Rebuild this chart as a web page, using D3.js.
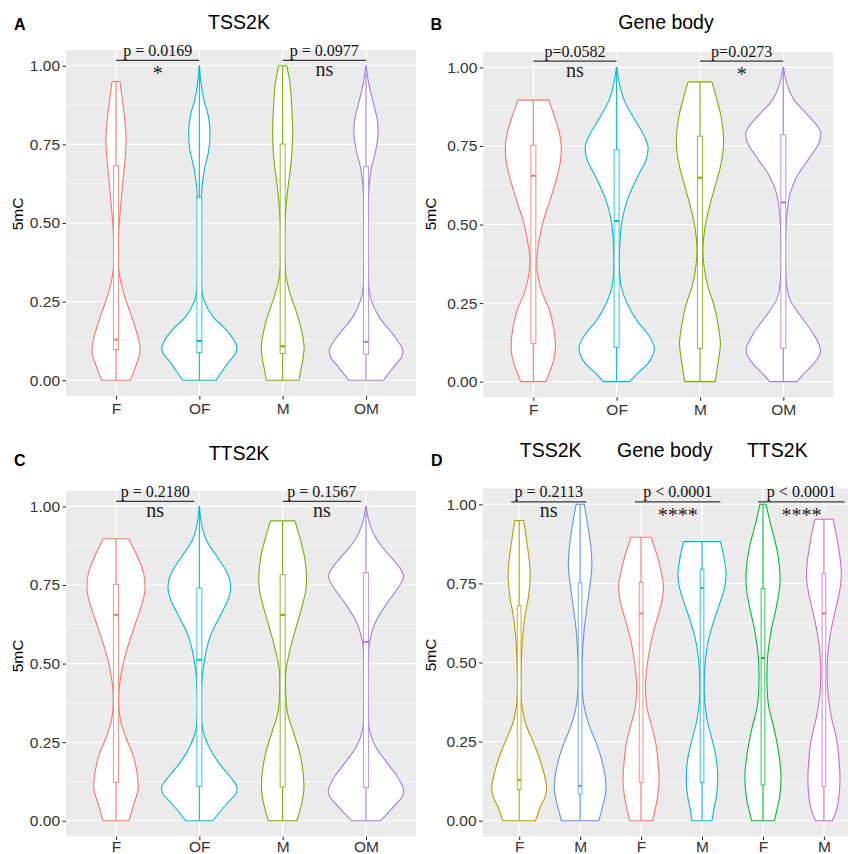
<!DOCTYPE html>
<html>
<head>
<meta charset="utf-8">
<script src="https://cdn.jsdelivr.net/npm/d3@7"></script>
<style>
  body { margin: 0; background: #fff; }
  svg { display: block; }
</style>
</head>
<body>
<div id="chart"></div>
<script>
// categories
const groupsABC = ['F', 'OF', 'M', 'OM']
const groupsD = ['F', 'M', 'F', 'M', 'F', 'M']
const colorsABC = ['#F8766D', '#00BFC4', '#7CAE00', '#A580D3']
const colorsD = ['#B79F00', '#5F93EC', '#F8766D', '#00BFC4', '#00BA38', '#D06AC7']
const yTicks = [0, 0.25, 0.5, 0.75, 1]
const yMinor = [0.125, 0.375, 0.625, 0.875]

// violin outlines: [5mC, relative density]
const violinsA = [
  [[0,43],[0.042,58],[0.085,71],[0.117,70],[0.17,57],[0.22,41],[0.276,23],[0.33,11],[0.38,6],[0.47,8],[0.53,12],[0.615,19],[0.68,25],[0.73,29],[0.77,30],[0.84,25],[0.89,19],[0.95,12]],
  [[0,50],[0.032,70],[0.064,92],[0.085,108],[0.106,112],[0.138,97],[0.17,72],[0.2,42],[0.254,14],[0.31,5],[0.41,2],[0.52,3],[0.615,8],[0.68,17],[0.73,28],[0.785,32],[0.84,27],[0.89,14],[0.944,5],[1,0.5]],
  [[0,49],[0.032,54],[0.064,60],[0.106,64],[0.17,54],[0.22,40],[0.276,22],[0.33,10],[0.41,5],[0.52,8],[0.615,16],[0.68,24],[0.73,28],[0.785,30],[0.89,26],[0.944,22],[1,12]],
  [[0,52],[0.042,82],[0.074,106],[0.095,110],[0.127,94],[0.16,70],[0.2,40],[0.254,16],[0.31,7],[0.41,4],[0.52,5],[0.615,9],[0.68,17],[0.73,29],[0.785,36],[0.827,34],[0.89,20],[0.944,8],[1,0.5]]
]
const violinsB = [
  [[0,37],[0.037,50],[0.069,60],[0.112,65],[0.175,59],[0.228,47],[0.28,27],[0.334,14],[0.387,10],[0.45,17],[0.514,30],[0.58,50],[0.653,70],[0.705,80],[0.748,82],[0.79,77],[0.843,62],[0.896,45]],
  [[0,39],[0.027,62],[0.058,92],[0.09,108],[0.112,110],[0.154,90],[0.19,62],[0.25,30],[0.3,14],[0.365,8],[0.45,10],[0.514,16],[0.58,32],[0.653,62],[0.705,86],[0.748,92],[0.79,77],[0.843,48],[0.896,22],[0.95,8],[1,0.5]],
  [[0,45],[0.037,50],[0.08,56],[0.122,60],[0.175,54],[0.24,42],[0.3,24],[0.365,12],[0.43,9],[0.493,15],[0.557,28],[0.62,44],[0.684,60],[0.737,68],[0.78,69],[0.843,62],[0.896,50],[0.954,35]],
  [[0,40],[0.027,62],[0.058,90],[0.09,108],[0.112,107],[0.154,87],[0.207,52],[0.26,20],[0.313,9],[0.42,6],[0.525,10],[0.6,20],[0.653,40],[0.705,72],[0.758,104],[0.79,110],[0.81,102],[0.854,67],[0.896,32],[0.95,10],[1,0.5]]
]
const violinsC = [
  [[0,38],[0.056,53],[0.099,65],[0.141,63],[0.205,51],[0.268,28],[0.32,13],[0.374,8],[0.438,11],[0.5,21],[0.565,38],[0.63,58],[0.693,77],[0.735,85],[0.788,81],[0.84,63],[0.897,37]],
  [[0,40],[0.024,57],[0.056,82],[0.088,108],[0.109,110],[0.141,90],[0.184,57],[0.238,27],[0.29,10],[0.343,5],[0.438,7],[0.523,17],[0.587,32],[0.65,60],[0.703,84],[0.745,92],[0.788,82],[0.84,52],[0.894,20],[0.947,6],[1,0.5]],
  [[0,42],[0.056,56],[0.099,62],[0.152,60],[0.215,50],[0.28,32],[0.343,14],[0.406,9],[0.48,10],[0.555,24],[0.618,40],[0.682,57],[0.735,68],[0.777,70],[0.84,64],[0.894,52],[0.954,36]],
  [[0,42],[0.046,82],[0.078,107],[0.099,110],[0.141,92],[0.184,62],[0.238,27],[0.29,10],[0.374,5],[0.48,5],[0.565,10],[0.63,27],[0.693,62],[0.745,97],[0.777,110],[0.8,102],[0.84,72],[0.894,32],[0.947,10],[1,0.5]]
]
const violinsD = [
  [[0,49],[0.045,64],[0.077,78],[0.108,82],[0.15,74],[0.203,59],[0.256,39],[0.308,19],[0.372,7],[0.456,5],[0.56,9],[0.645,17],[0.708,28],[0.772,33],[0.814,31],[0.887,22],[0.949,13]],
  [[0,56],[0.045,67],[0.087,76],[0.119,77],[0.182,67],[0.235,52],[0.287,32],[0.34,16],[0.403,7],[0.498,6],[0.603,12],[0.687,22],[0.75,30],[0.803,35],[0.866,32],[0.94,22],[1,12]],
  [[0,34],[0.045,44],[0.087,51],[0.13,54],[0.182,51],[0.245,44],[0.308,29],[0.361,17],[0.424,13],[0.498,19],[0.571,31],[0.634,47],[0.698,63],[0.74,67],[0.782,61],[0.835,49],[0.896,30]],
  [[0,30],[0.035,35],[0.077,43],[0.13,47],[0.193,43],[0.256,30],[0.319,15],[0.393,7],[0.477,8],[0.56,17],[0.624,33],[0.687,53],[0.74,68],[0.782,72],[0.835,65],[0.882,55]],
  [[0,34],[0.035,42],[0.077,50],[0.14,54],[0.214,47],[0.287,34],[0.361,17],[0.435,12],[0.519,14],[0.603,25],[0.676,40],[0.74,50],[0.793,50],[0.866,40],[0.94,22],[1,9]],
  [[0,25],[0.035,38],[0.077,45],[0.13,48],[0.193,45],[0.256,38],[0.33,22],[0.403,12],[0.498,10],[0.582,18],[0.656,32],[0.72,46],[0.772,52],[0.814,50],[0.887,40],[0.953,27]]
]

// box: [lower hinge, median, upper hinge]
const boxesA = [[0.098,0.129,0.682],[0.088,0.125,0.581],[0.085,0.108,0.751],[0.083,0.122,0.679]]
const boxesB = [[0.121,0.655,0.752],[0.109,0.511,0.738],[0.106,0.649,0.781],[0.106,0.57,0.786]]
const boxesC = [[0.122,0.655,0.752],[0.109,0.512,0.74],[0.107,0.655,0.783],[0.106,0.569,0.789]]
const boxesD = [[0.098,0.129,0.68],[0.084,0.11,0.752],[0.121,0.655,0.753],[0.121,0.735,0.795],[0.113,0.514,0.734],[0.108,0.655,0.78]]

// comparisons
const pvalsA = ['p = 0.0169', 'p = 0.0977']
const sigA = ['*', 'ns']
const bracketsA = [[0, 1], [2, 3]]
const pvalsB = ['p=0.0582', 'p=0.0273']
const sigB = ['ns', '*']
const bracketsB = [[0, 1], [2, 3]]
const pvalsC = ['p = 0.2180', 'p = 0.1567']
const sigC = ['ns', 'ns']
const bracketsC = [[0, 0.94], [2, 2.94]]
const pvalsD = ['p = 0.2113', 'p < 0.0001', 'p < 0.0001']
const sigD = ['ns', '****', '****']
const bracketsD = [[-0.13, 1.1], [1.9, 3.3], [3.92, 5.34]]

const W = 848, H = 854
const sans = '"Liberation Sans", Arial, sans-serif'
const serif = '"Liberation Serif", "Times New Roman", serif'

const svg = d3.select('#chart').append('svg')
  .attr('width', W)
  .attr('height', H)
  .style('font-family', sans)

const panels = [
  { letter: 'A', groups: groupsABC, colors: colorsABC, violins: violinsA, boxes: boxesA,
    pvals: pvalsA, sig: sigA, brackets: bracketsA, bracketY: 1.017, xPad: 3,
    rect: [66, 50, 416, 396], titles: [['TSS2K', 239, 29.3]], letterPos: [14, 30], yLab: [18, 214] },
  { letter: 'B', groups: groupsABC, colors: colorsABC, violins: violinsB, boxes: boxesB,
    pvals: pvalsB, sig: sigB, brackets: bracketsB, bracketY: 1.02, xPad: 3,
    rect: [483.3, 51.7, 833.3, 397.3], titles: [['Gene body', 666, 29.3]], letterPos: [430.5, 29.5], yLab: [431, 214] },
  { letter: 'C', groups: groupsABC, colors: colorsABC, violins: violinsC, boxes: boxesC,
    pvals: pvalsC, sig: sigC, brackets: bracketsC, bracketY: 1.016, xPad: 1,
    rect: [66, 490.7, 416, 836.5], titles: [['TTS2K', 239, 460]], letterPos: [14, 466], yLab: [18, 656] },
  { letter: 'D', groups: groupsD, colors: colorsD, violins: violinsD, boxes: boxesD,
    pvals: pvalsD, sig: sigD, brackets: bracketsD, bracketY: 1.008, xPad: 1,
    rect: [482.6, 488.5, 860.5, 836.5],
    titles: [['TSS2K', 550.7, 457], ['Gene body', 664.7, 457], ['TTS2K', 777.3, 457]],
    letterPos: [431, 466], yLab: [431, 655] }
]

panels.forEach(drawPanel)

function drawPanel(p) {
  const [left, top, right, bottom] = p.rect
  const g = svg.append('g').attr('class', 'panel')
  const keys = p.groups.map((d, i) => String(i))

  const x = d3.scalePoint().domain(keys).range([left, right]).padding(0.6)
  const y = d3.scaleLinear().domain([-0.05, 1.05]).range([bottom, top])
  const step = x.step()
  const dens = d3.scaleLinear()
    .domain([0, d3.max(p.violins.flat(), d => d[1])])
    .range([0, 0.45 * step])
  const xi = v => x('0') + v * step

  // 배경 + 그리드
  g.append('rect')
    .attr('x', left).attr('y', top)
    .attr('width', right - left).attr('height', bottom - top)
    .attr('fill', '#EBEBEB')

  g.append('g').selectAll('line')
    .data(yMinor)
    .join('line')
    .attr('x1', left).attr('x2', right)
    .attr('y1', d => y(d)).attr('y2', d => y(d))
    .attr('stroke', '#fff').attr('stroke-width', 0.55)

  g.append('g').selectAll('line')
    .data(yTicks)
    .join('line')
    .attr('x1', left).attr('x2', right)
    .attr('y1', d => y(d)).attr('y2', d => y(d))
    .attr('stroke', '#fff').attr('stroke-width', 1.1)

  g.append('g').selectAll('line')
    .data(keys)
    .join('line')
    .attr('x1', d => x(d)).attr('x2', d => x(d))
    .attr('y1', top).attr('y2', bottom)
    .attr('stroke', '#fff').attr('stroke-width', 1.1)

  // 바이올린
  const vg = g.append('g').attr('class', 'violins')
  p.violins.forEach((prof, i) => {
    const cx = x(String(i))
    const area = d3.area()
      .y(d => y(d[0]))
      .x0(d => cx - dens(d[1]))
      .x1(d => cx + dens(d[1]))
      .curve(d3.curveCatmullRom)
    vg.append('path')
      .attr('d', area(prof))
      .attr('fill', '#fff')
      .attr('stroke', p.colors[i])
      .attr('stroke-width', 1.1)
      .attr('stroke-linejoin', 'round')
  })

  // 박스플롯
  const bw = 0.03 * step
  p.boxes.forEach((b, i) => {
    const cx = x(String(i))
    const prof = p.violins[i]
    const col = p.colors[i]
    vg.append('line')
      .attr('x1', cx).attr('x2', cx)
      .attr('y1', y(prof[0][0])).attr('y2', y(prof[prof.length - 1][0]))
      .attr('stroke', col).attr('stroke-width', 1.1)
    vg.append('rect')
      .attr('x', cx - bw).attr('width', 2 * bw)
      .attr('y', y(b[2])).attr('height', y(b[0]) - y(b[2]))
      .attr('fill', '#fff')
      .attr('stroke', col).attr('stroke-opacity', 0.75).attr('stroke-width', 1.1)
    vg.append('line')
      .attr('x1', cx - bw).attr('x2', cx + bw)
      .attr('y1', y(b[1])).attr('y2', y(b[1]))
      .attr('stroke', col).attr('stroke-width', 2)
  })

  // 축
  const yAxis = g.append('g')
    .attr('transform', `translate(${left},0)`)
    .call(d3.axisLeft(y).tickValues(yTicks).tickFormat(d3.format('.2f')).tickSize(3.5).tickPadding(2.5))
  const xAxis = g.append('g')
    .attr('transform', `translate(0,${bottom})`)
    .call(d3.axisBottom(x).tickFormat(d => p.groups[+d]).tickSize(3.5).tickPadding(p.xPad))
  ;[yAxis, xAxis].forEach(ax => {
    ax.select('.domain').remove()
    ax.selectAll('line').attr('stroke', '#333').attr('stroke-width', 1.1)
    ax.selectAll('text')
      .attr('fill', '#333')
      .style('font-family', sans)
      .style('font-size', '15.5px')
  })

  // 축 제목
  g.append('text')
    .attr('transform', `translate(${p.yLab[0]},${p.yLab[1]}) rotate(-90)`)
    .attr('text-anchor', 'middle')
    .attr('dy', '0.35em')
    .attr('fill', '#000')
    .style('font-size', '15.5px')
    .text('5mC')

  // 비교 표시
  const by = y(p.bracketY)
  p.brackets.forEach((br, i) => {
    const x1 = xi(br[0]), x2 = xi(br[1])
    const mid = (x1 + x2) / 2
    g.append('line')
      .attr('x1', x1).attr('x2', x2)
      .attr('y1', by).attr('y2', by)
      .attr('stroke', '#3a3a3a').attr('stroke-width', 1.3)
    g.append('text')
      .attr('x', mid).attr('y', by - 4.6)
      .attr('text-anchor', 'middle')
      .attr('fill', '#111')
      .style('font-family', serif)
      .style('font-size', '16px')
      .text(p.pvals[i])
    const s = p.sig[i]
    g.append('text')
      .attr('x', mid).attr('y', by + (s === 'ns' ? 15.5 : 20))
      .attr('text-anchor', 'middle')
      .attr('fill', '#222')
      .style('font-family', serif)
      .style('font-size', '20px')
      .text(s)
  })

  // 제목
  p.titles.forEach(t => {
    g.append('text')
      .attr('x', t[1]).attr('y', t[2])
      .attr('text-anchor', 'middle')
      .attr('fill', '#000')
      .style('font-size', '19.5px')
      .text(t[0])
  })

  g.append('text')
    .attr('x', p.letterPos[0]).attr('y', p.letterPos[1])
    .attr('fill', '#000')
    .style('font-size', '16px')
    .style('font-weight', 'bold')
    .text(p.letter)
}
</script>
</body>
</html>
